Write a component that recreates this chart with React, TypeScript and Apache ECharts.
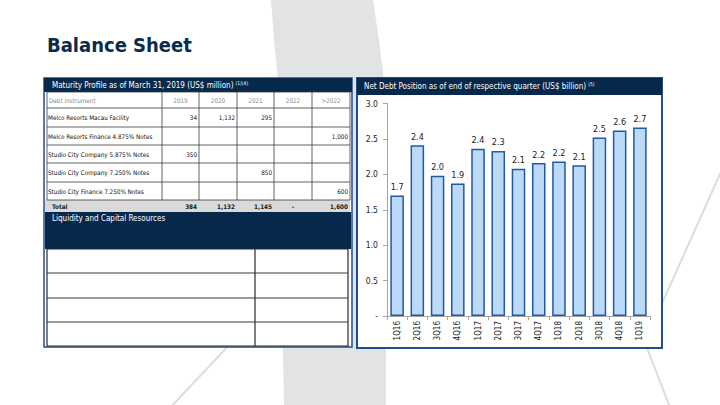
import React, { useEffect, useRef } from 'react';
import * as echarts from 'echarts';

// ---------- data ----------
const quarters = ['1Q16', '2Q16', '3Q16', '4Q16', '1Q17', '2Q17', '3Q17', '4Q17', '1Q18', '2Q18', '3Q18', '4Q18', '1Q19'];
const netDebt = [1.70, 2.41, 1.98, 1.87, 2.36, 2.33, 2.08, 2.16, 2.18, 2.13, 2.52, 2.62, 2.66];
const yMin = 0;
const yMax = 3.0;
const yStep = 0.5;

const maturityYears = ['2019', '2020', '2021', '2022', '>2022'];
const debtInstruments = [
  'Melco Resorts Macau Facility',
  'Melco Resorts Finance 4.875% Notes',
  'Studio City Company 5.875% Notes',
  'Studio City Company 7.250% Notes',
  'Studio City Finance 7.250% Notes',
];
const maturityValues: (number | null)[][] = [
  [34, 1132, 295, null, null],
  [null, null, null, null, 1000],
  [350, null, null, null, null],
  [null, null, 850, null, null],
  [null, null, null, null, 600],
];

const pageTitle = 'Balance Sheet';
const leftTitle = 'Maturity Profile as of March 31, 2019 (US$ million)';
const leftTitleNote = '(1)(4)';
const liquidityTitle = 'Liquidity and Capital Resources';
const rightTitle = 'Net Debt Position as of end of respective quarter (US$ billion)';
const rightTitleNote = '(5)';

// ---------- styles ----------
const NAVY = '#06294b';
const BLUE_BORDER = '#1f4f8f';
const F = '"DejaVu Sans Condensed", "DejaVu Sans", sans-serif';

const fmt = (v: number) => v.toLocaleString('en-US');

function buildGraphics(): any[] {
  const g: any[] = [];
  // background decorations
  g.push({
    type: 'polygon', z: 0, silent: true,
    shape: { points: [[271, 0], [373, 0], [379, 40], [384, 80], [386, 200], [386, 405], [284, 405], [281, 250], [278, 80], [274, 40]] },
    style: { fill: '#e2e3e5' },
  });
  g.push({ type: 'line', z: 0, silent: true, shape: { x1: 232, y1: 342, x2: 168, y2: 410 }, style: { stroke: '#dcdcdc', lineWidth: 2 } });
  g.push({ type: 'line', z: 0, silent: true, shape: { x1: 644, y1: 340, x2: 671, y2: 410 }, style: { stroke: '#dcdcdc', lineWidth: 2 } });
  g.push({ type: 'line', z: 0, silent: true, shape: { x1: 724, y1: 165, x2: 660, y2: 308 }, style: { stroke: '#dcdcdc', lineWidth: 2 } });

  // page title
  g.push({
    type: 'text', z: 2, x: 47, y: 45,
    style: { text: pageTitle, fontSize: 20, fontWeight: 'bold', fill: '#0b2b4c', fontFamily: F, verticalAlign: 'middle', align: 'left' },
  });

  // ---- left panel ----
  g.push({ type: 'rect', z: 1, shape: { x: 44, y: 78, width: 308, height: 269 }, style: { fill: '#ffffff', stroke: BLUE_BORDER, lineWidth: 1.5 } });
  g.push({ type: 'rect', z: 1, shape: { x: 44, y: 78, width: 308, height: 14 }, style: { fill: NAVY } });
  g.push({
    type: 'text', z: 2, x: 52, y: 85.5,
    style: {
      text: leftTitle + '{s|' + leftTitleNote + '}', fill: '#ffffff', fontSize: 8, fontFamily: F, verticalAlign: 'middle',
      rich: { s: { fontSize: 5, fill: '#ffffff', fontFamily: F, padding: [0, 0, 5, 2] } },
    },
  });

  const colX = [47, 162, 199, 237, 274, 312, 350];
  const rowY = [92, 108, 127, 145, 163, 182, 200];
  // total row
  g.push({ type: 'rect', z: 1, shape: { x: 45, y: 200, width: 305, height: 12 }, style: { fill: '#d9d9d9' } });
  // grid lines
  rowY.forEach((y) => {
    g.push({ type: 'line', z: 1, shape: { x1: 47, y1: y, x2: 350, y2: y }, style: { stroke: '#3a3a3a', lineWidth: 0.8 } });
  });
  colX.forEach((x) => {
    g.push({ type: 'line', z: 1, shape: { x1: x, y1: 92, x2: x, y2: 200 }, style: { stroke: '#3a3a3a', lineWidth: 0.8 } });
  });
  // header row
  g.push({ type: 'text', z: 2, x: 49, y: 100, style: { text: 'Debt Instrument', fill: '#8a8a8a', fontSize: 6.3, fontFamily: F, verticalAlign: 'middle' } });
  maturityYears.forEach((yr, i) => {
    g.push({
      type: 'text', z: 2, x: (colX[i + 1] + colX[i + 2]) / 2, y: 100,
      style: { text: yr, fill: '#8a8a8a', fontSize: 6.3, fontFamily: F, verticalAlign: 'middle', align: 'center' },
    });
  });
  // body rows
  debtInstruments.forEach((name, r) => {
    const cy = (rowY[r + 1] + rowY[r + 2]) / 2;
    g.push({ type: 'text', z: 2, x: 48, y: cy, style: { text: name, fill: '#111', fontSize: 6.3, fontFamily: F, verticalAlign: 'middle' } });
    maturityValues[r].forEach((v, c) => {
      if (v == null) return;
      g.push({
        type: 'text', z: 2, x: colX[c + 2] - 2, y: cy,
        style: { text: fmt(v), fill: '#111', fontSize: 6.3, fontFamily: F, verticalAlign: 'middle', align: 'right' },
      });
    });
  });
  // totals
  g.push({ type: 'text', z: 2, x: 52, y: 206, style: { text: 'Total', fill: '#1a1a1a', fontSize: 6.3, fontWeight: 'bold', fontFamily: F, verticalAlign: 'middle' } });
  maturityYears.forEach((_, c) => {
    const sum = maturityValues.reduce((a, row) => a + (row[c] ?? 0), 0);
    g.push({
      type: 'text', z: 2, x: c === 3 ? (colX[c + 1] + colX[c + 2]) / 2 : colX[c + 2] - 2, y: 206,
      style: { text: sum === 0 ? '-' : fmt(sum), fill: '#1a1a1a', fontSize: 6.3, fontWeight: 'bold', fontFamily: F, verticalAlign: 'middle', align: c === 3 ? 'center' : 'right' },
    });
  });

  // liquidity section
  g.push({ type: 'rect', z: 1, shape: { x: 45, y: 212, width: 306, height: 37 }, style: { fill: NAVY } });
  g.push({ type: 'text', z: 2, x: 52, y: 218.5, style: { text: liquidityTitle, fill: '#ffffff', fontSize: 8, fontFamily: F, verticalAlign: 'middle' } });
  g.push({ type: 'rect', z: 1, shape: { x: 47, y: 249, width: 301, height: 97 }, style: { fill: '#ffffff', stroke: '#2a2a2a', lineWidth: 1.2 } });
  [273, 298, 322].forEach((y) => {
    g.push({ type: 'line', z: 1, shape: { x1: 47, y1: y, x2: 348, y2: y }, style: { stroke: '#3a3a3a', lineWidth: 1.2 } });
  });
  g.push({ type: 'line', z: 1, shape: { x1: 255, y1: 249, x2: 255, y2: 346 }, style: { stroke: '#2a2a2a', lineWidth: 1.2 } });

  // ---- right panel ----
  g.push({ type: 'rect', z: 1, shape: { x: 357, y: 78, width: 305, height: 270 }, style: { fill: '#ffffff', stroke: BLUE_BORDER, lineWidth: 2 } });
  g.push({ type: 'rect', z: 1, shape: { x: 357, y: 78, width: 305, height: 17 }, style: { fill: NAVY } });
  g.push({
    type: 'text', z: 2, x: 364, y: 86.5,
    style: {
      text: rightTitle + '{s|' + rightTitleNote + '}', fill: '#ffffff', fontSize: 8, fontFamily: F, verticalAlign: 'middle',
      rich: { s: { fontSize: 5, fill: '#ffffff', fontFamily: F, padding: [0, 0, 5, 2] } },
    },
  });
  return g;
}

export default function App() {
  const ref = useRef<HTMLDivElement>(null);
  useEffect(() => {
    if (!ref.current) return;
    const chart = echarts.init(ref.current, undefined, { renderer: 'svg' });
    chart.setOption({
      animation: false,
      backgroundColor: '#ffffff',
      graphic: { elements: buildGraphics() },
      grid: { left: 387, right: 70, top: 103.5, bottom: 89 },
      xAxis: {
        type: 'category',
        data: quarters,
        z: 5,
        axisLine: { lineStyle: { color: '#a6a6a6', width: 1 } },
        axisTick: { show: true, length: 4, alignWithLabel: false, lineStyle: { color: '#a6a6a6' } },
        axisLabel: { rotate: 90, fontSize: 8, color: '#222', fontFamily: F, margin: 5, interval: 0 },
      },
      yAxis: {
        type: 'value',
        min: yMin,
        max: yMax,
        interval: yStep,
        z: 5,
        axisLine: { show: true, lineStyle: { color: '#a6a6a6', width: 1 } },
        axisTick: { show: true, length: 4, lineStyle: { color: '#a6a6a6' } },
        splitLine: { show: false },
        axisLabel: {
          fontSize: 8.5, color: '#222', fontFamily: F, margin: 9,
          formatter: (v: number) => (v === 0 ? '-' : v.toFixed(1)),
        },
      },
      series: [
        {
          type: 'bar',
          data: netDebt,
          z: 6,
          barCategoryGap: '33%',
          itemStyle: { color: '#bcdaf8', borderColor: '#1f5aa3', borderWidth: 1.5 },
          label: {
            show: true, position: 'top', distance: 4, fontSize: 9, color: '#222', fontFamily: F,
            formatter: (p: any) => p.value.toFixed(1),
          },
        },
      ],
    });
    return () => chart.dispose();
  }, []);
  return <div ref={ref} style={{ position: 'fixed', left: 0, top: 0, width: 720, height: 405 }} />;
}
